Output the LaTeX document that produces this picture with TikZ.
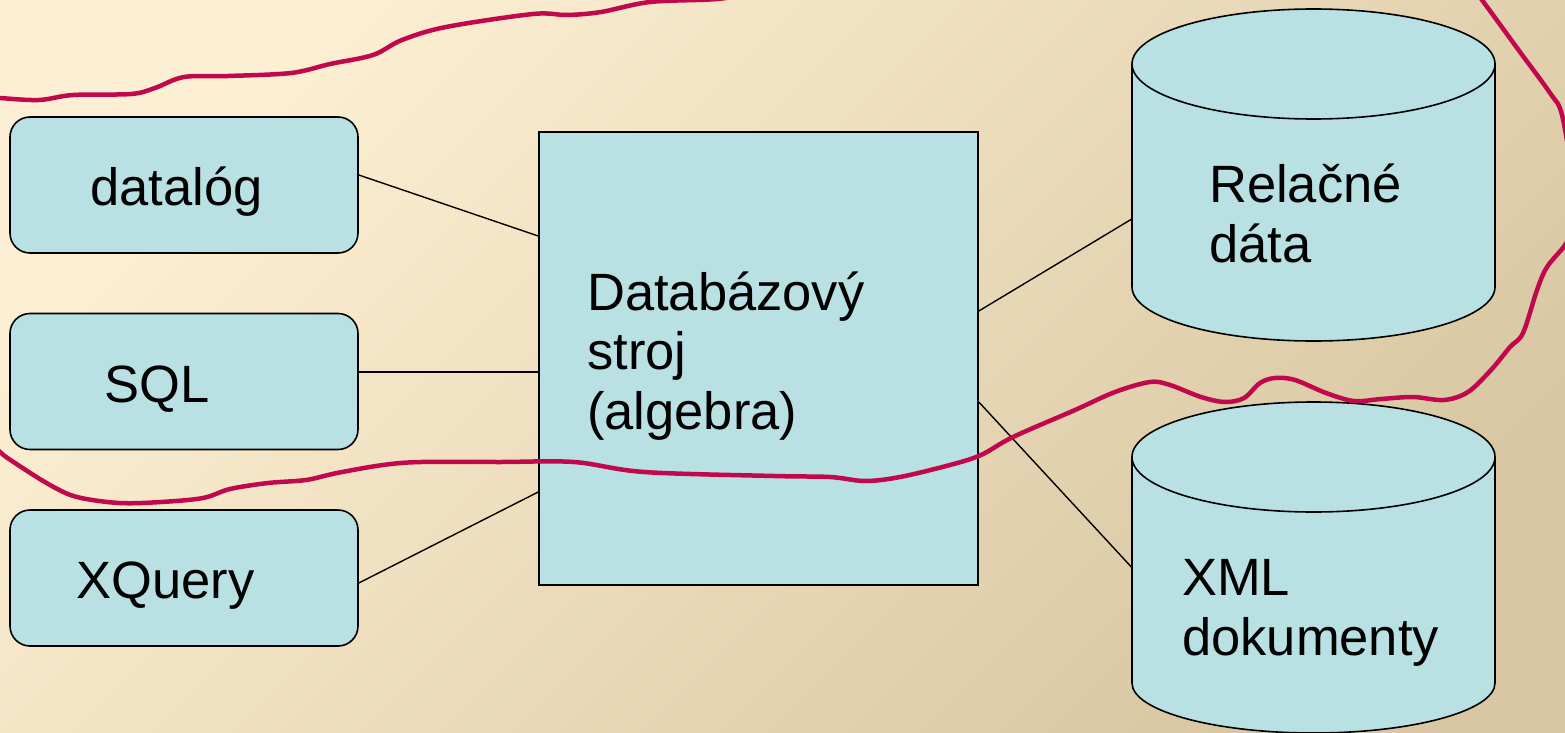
\documentclass[tikz,border=0pt]{standalone}
\usepackage{fontspec}
\setmainfont{Liberation Sans}
\usetikzlibrary{calc}
\definecolor{bgA}{HTML}{FDEFD3}
\definecolor{bgB}{HTML}{D8C7A2}
\definecolor{boxfill}{HTML}{B9E0E3}
\definecolor{inkred}{HTML}{C2084C}
\begin{document}
\begin{tikzpicture}[x=1pt,y=-1pt,
  lang/.style={draw, line width=1.6pt, fill=boxfill, rounded corners=20pt, minimum width=348pt, minimum height=136pt, inner sep=0pt},
  engine/.style={draw, line width=1.6pt, fill=boxfill, minimum width=439pt, minimum height=453pt, inner sep=0pt},
  area/.style={minimum width=363pt, minimum height=332pt, inner sep=0pt},
  lbl/.style={anchor=base west, inner sep=0pt, font=\fontsize{52.5}{59.5}\selectfont, align=left},
  conn/.style={line width=1.4pt},
  cylbody/.style={draw, line width=1.6pt, fill=boxfill},
  scribble/.style={inkred, line width=4.5pt, line cap=round, line join=round}
]
\useasboundingbox (0,0) rectangle (1565,733);
\shade[top color=bgA, bottom color=bgB, shading angle=45] (0,0) rectangle (1565,733);

% language boxes
\node[lang] (dl) at (184,185) {};
\node[lang] (sql) at (184,381.5) {};
\node[lang] (xq) at (184,578) {};
\node[lbl] (dlt) at (90,205) {datalóg};
\node[lbl] (sqlt) at (104.5,402) {SQL};
\node[lbl] (xqt) at (76.5,598) {XQuery};

% engine (base anchor = baseline of the last line)
\node[engine] (eng) at (758.5,358.5) {};
\node[lbl] (engt) at (587,429) {Databázový\\stroj\\(algebra)};

% cylinders
\draw[cylbody] (1132,64) -- (1132,287) arc[start angle=180,end angle=360,x radius=181.5pt,y radius=54pt] -- (1495,64) -- cycle;
\draw[cylbody] (1313.5,64) ellipse[x radius=181.5pt, y radius=55pt];
\node[area] (cyl1) at (1313.5,175) {};
\node[lbl] (cyl1t) at (1209,262) {Relačné\\dáta};

\draw[cylbody] (1132,457) -- (1132,683) arc[start angle=180,end angle=360,x radius=181.5pt,y radius=50pt] -- (1495,457) -- cycle;
\draw[cylbody] (1313.5,457) ellipse[x radius=181.5pt, y radius=55pt];
\node[area] (cyl2) at (1313.5,567.5) {};
\node[lbl] (cyl2t) at (1182,655) {XML\\dokumenty};

% connectors
\draw[conn] ([yshift=10pt]dl.east) -- ([yshift=122.5pt]eng.west);
\draw[conn] ([yshift=9.5pt]sql.east) -- ([yshift=-13.5pt]eng.west);
\draw[conn] ([yshift=-5pt]xq.east) -- ([yshift=-133.5pt]eng.west);
\draw[conn] ([yshift=47.5pt]eng.east) -- ([yshift=-44pt]cyl1.west);
\draw[conn] ([yshift=-43.5pt]eng.east) -- (cyl2.west);

% hand-drawn red loop
\begin{scope}
\clip (0,0) rectangle (1565,733);
\draw[scribble] plot[smooth, tension=0.55] coordinates {(-20,96) (0,98) (39,100) (73,95) (131,94) (155,88) (184,77) (228,76) (291,73) (330,64) (373,55) (402,40) (446,27) (533,14) (567,15) (601,12) (650,2) (717,-1) (760,-8)};
\draw[scribble] plot[smooth, tension=0.55] coordinates {(1465,-22) (1482,0) (1520,52) (1550,93) (1562,115) (1572,180) (1570,230) (1565,245) (1547,267) (1537,290) (1523,333) (1510,347) (1491,370) (1468,392) (1444,400) (1413,397) (1381,399) (1354,401) (1326,393) (1295,380) (1275,378) (1260,383) (1244,398) (1225,402) (1201,397) (1170,385) (1150,382) (1115,392) (1075,410) (1013,437) (981,455) (950,465) (900,477) (865,481) (830,477) (774,476) (644,472) (574,462) (500,462) (421,462) (383,465) (337,473) (306,480) (268,483) (230,489) (203,498) (161,502) (119,503) (77,497) (50,485) (15,463) (0,452) (-15,435)};
\end{scope}
\end{tikzpicture}
\end{document}
